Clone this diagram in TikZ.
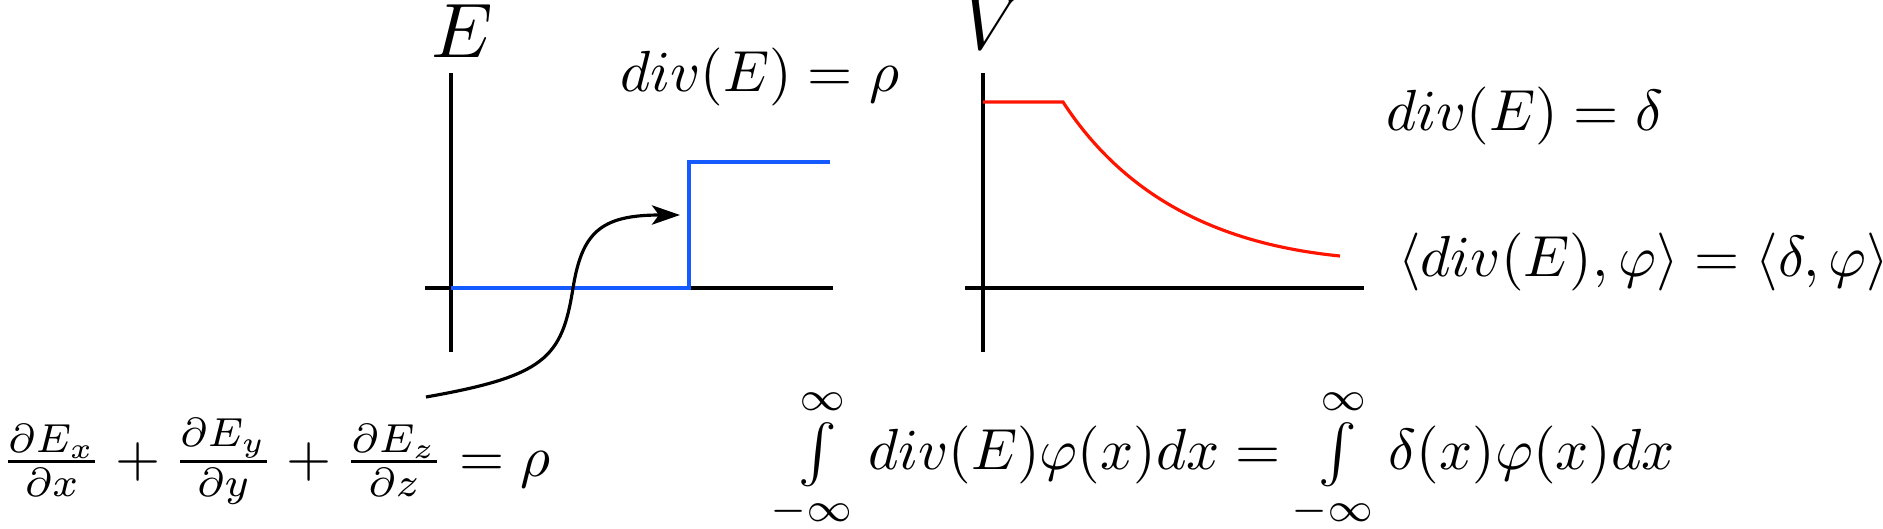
\documentclass[tikz,border=0pt]{standalone}
\usetikzlibrary{arrows.meta,positioning}
\definecolor{stepblue}{RGB}{20,90,255}
\definecolor{potred}{RGB}{255,20,0}

\begin{document}
\begin{tikzpicture}[x=1cm,y=1cm,>={Stealth[length=8pt,width=5.5pt,inset=2pt]},
  eq/.style={inner sep=0pt,scale=1.65,transform shape},
  axlabel/.style={inner sep=0pt,scale=2.2,transform shape}]
  \useasboundingbox (0,0) rectangle (18.83,5.28);

  % Field axes
  \draw[line width=0.9pt] (4.25,2.40) -- (8.33,2.40);
  \draw[line width=0.9pt] (4.51,1.76) -- (4.51,4.55);
  \node[axlabel,anchor=base] (Elabel) at (4.62,4.70) {$E$};

  % Step in E
  \draw[stepblue,line width=0.9pt] (4.51,2.40) -- (6.89,2.40) -- (6.89,3.66) -- (8.30,3.66);
  \node[eq,anchor=base west] (divrho) at (6.19,4.36) {$div(E) = \rho$};

  % Gauss law and the arrow to the step
  \node[eq,anchor=base west] (gauss) at (0,0.52)
    {$\frac{\partial E_x}{\partial x} + \frac{\partial E_y}{\partial y} + \frac{\partial E_z}{\partial z} = \rho$};
  \coordinate (a0) at (4.26,1.31);
  \coordinate (a1) at (5.73,2.40);
  \coordinate (a2) at (6.80,3.13);
  \draw[->,line width=0.9pt] (a0) .. controls (5.45,1.52) and (5.62,1.70) .. (a1)
    .. controls (5.82,2.95) and (6.0,3.13) .. (a2);

  % Potential axes
  \draw[line width=0.9pt] (9.65,2.40) -- (13.64,2.40);
  \draw[line width=0.9pt] (9.83,1.76) -- (9.83,4.55);
  \node[axlabel,anchor=base] (Vlabel) at (9.93,4.78) {$V$};

  % Potential curve
  \draw[potred,line width=0.9pt] (9.83,4.26) -- (10.63,4.26)
    .. controls (11.30,3.23) and (12.30,2.83) .. (13.40,2.72);

  % Weak form
  \node[eq,anchor=base west] (divdelta) at (13.85,3.97) {$div(E) = \delta$};
  \node[eq,anchor=base west] (pairing) at (13.97,2.52)
    {$\langle div(E),\varphi\rangle = \langle\delta,\varphi\rangle$};
  \node[eq,anchor=base west] (intform) at (7.75,0.59)
    {$\int\limits_{-\infty}^{\infty} div(E)\varphi(x)dx = \int\limits_{-\infty}^{\infty} \delta(x)\varphi(x)dx$};
\end{tikzpicture}
\end{document}
